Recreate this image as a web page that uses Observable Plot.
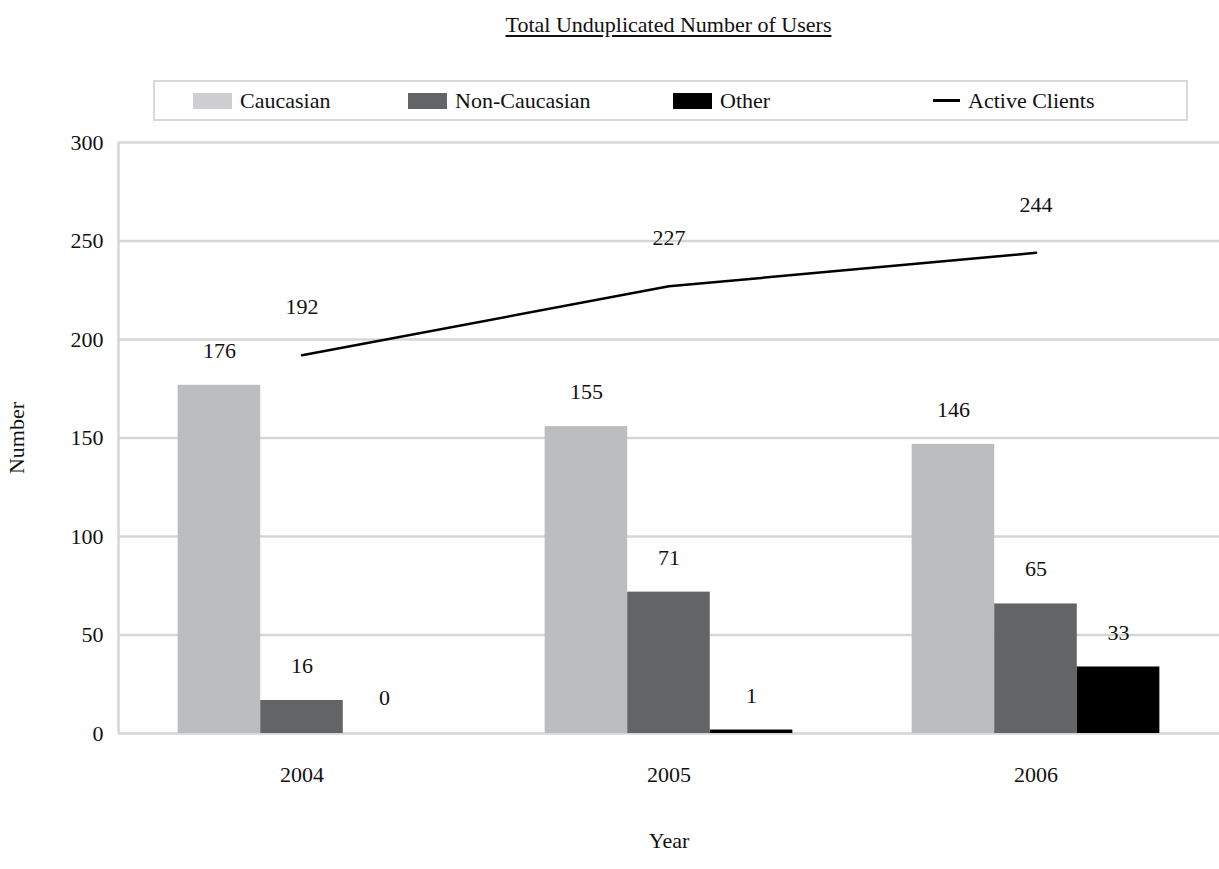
<!DOCTYPE html>
<html>
<head>
<meta charset="utf-8">
<script src="https://cdn.jsdelivr.net/npm/d3@7"></script>
<script src="https://cdn.jsdelivr.net/npm/@observablehq/plot@0.6"></script>
<style>
  body { margin: 0; background: #fff; }
  #wrap { position: relative; width: 1219px; height: 869px; font-family: "Liberation Serif", "Times New Roman", serif; color: #111; }
  #title { position: absolute; left: 118px; width: 1101px; top: 12px; text-align: center; font-size: 22px; }
  #title span { text-decoration: underline; text-underline-offset: 3px; }
  #legend { position: absolute; left: 153px; top: 80px; width: 1035px; height: 41px; box-sizing: border-box; border: 2px solid #d9d9d9; font-size: 22px; }
  .item { position: absolute; top: 0; height: 37px; display: flex; align-items: center; }
  .sw { width: 39px; height: 16px; margin-right: 8px; }
  .ln { width: 27px; height: 2.5px; background: #000; margin-right: 8px; }
  #chart { position: absolute; left: 0; top: 130px; }
</style>
</head>
<body>
<div id="wrap">
  <div id="title"><span>Total Unduplicated Number of Users</span></div>
  <div id="legend"></div>
  <div id="chart"></div>
</div>
<script>
const years = ["2004", "2005", "2006"];
const series = ["Caucasian", "Non-Caucasian", "Other"];
const caucasian = [176, 155, 146];
const nonCaucasian = [16, 71, 65];
const other = [0, 1, 33];
const activeClients = [192, 227, 244];
const yTicks = [0, 50, 100, 150, 200, 250, 300];
const barColors = ["#bcbdbf", "#636466", "#000000"];
const legendSwatch = ["#cfcfd1", "#636466", "#000000"];

// legend (HTML, above the SVG)
const legend = document.getElementById("legend");
const legendX = [38, 253, 518];
series.forEach((s, i) => {
  const it = document.createElement("div");
  it.className = "item";
  it.style.left = legendX[i] + "px";
  it.innerHTML = `<div class="sw" style="background:${legendSwatch[i]}"></div><span>${s}</span>`;
  legend.appendChild(it);
});
{
  const it = document.createElement("div");
  it.className = "item";
  it.style.left = "778px";
  it.innerHTML = `<div class="ln"></div><span>Active Clients</span>`;
  legend.appendChild(it);
}

// table built from arrays
const values = [caucasian, nonCaucasian, other];
const barW = 0.225;
const bars = [];
years.forEach((y, i) => {
  series.forEach((s, j) => {
    const c = i + (j - 1) * barW;
    bars.push({year: y, idx: i, series: s, value: values[j][i], x1: c - barW / 2, x2: c + barW / 2, xc: c});
  });
});
const lineData = years.map((y, i) => ({year: y, idx: i, value: activeClients[i]}));

const font = "Liberation Serif, Times New Roman, serif";
const chart = Plot.plot({
  width: 1219,
  height: 739,
  marginTop: 12,
  marginBottom: 136,
  marginLeft: 118,
  marginRight: 0,
  style: {fontFamily: font, fontSize: "22px", color: "#111", background: "transparent"},
  x: {type: "linear", domain: [-0.5, 2.5]},
  y: {domain: [0, 300]},
  color: {domain: series, range: barColors},
  marks: [
    Plot.ruleY(yTicks, {stroke: "#d6d6d6", strokeWidth: 2.5}),
    Plot.ruleX([-0.5], {stroke: "#d6d6d6", strokeWidth: 2.5}),
    Plot.rect(bars.filter(d => d.value > 0), {x1: "x1", x2: "x2", y1: 0, y2: "value", fill: "series", insetTop: -1.5}),
    Plot.text(bars, {x: "xc", y: "value", text: d => String(d.value), dy: -36, fontSize: 22, fill: "#111"}),
    Plot.line(lineData, {x: "idx", y: "value", stroke: "#000", strokeWidth: 2.5}),
    Plot.text(lineData, {x: "idx", y: "value", text: d => String(d.value), dy: -48, fontSize: 22, fill: "#111"}),
    Plot.axisY({ticks: yTicks, tickSize: 0, tickPadding: 15, fontSize: 22, label: "Number", labelAnchor: "center", labelOffset: 110, labelArrow: "none"}),
    Plot.axisX({ticks: [0, 1, 2], tickFormat: i => years[i], tickSize: 0, tickPadding: 33, fontSize: 22, label: "Year", labelAnchor: "center", labelOffset: 114, labelArrow: "none"})
  ]
});
document.getElementById("chart").appendChild(chart);
</script>
</body>
</html>
